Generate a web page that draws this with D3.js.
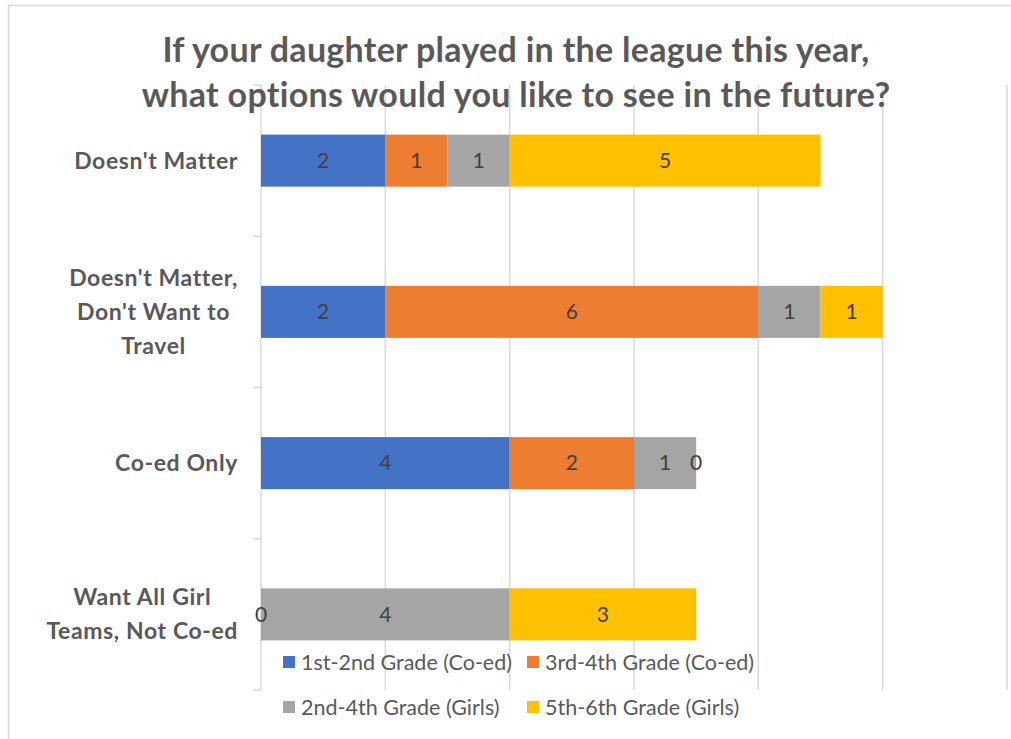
<!DOCTYPE html>
<html>
<head>
<meta charset="utf-8">
<script src="https://cdn.jsdelivr.net/npm/d3@7"></script>
<style>
  body { margin: 0; background: #fff; }
  svg { display: block; font-family: Lato, "Open Sans", sans-serif; }
</style>
</head>
<body>
<div id="chart"></div>
<script>
// categories (top to bottom), label lines
var categories = ["Doesn't Matter", "Doesn't Matter, Don't Want to Travel", "Co-ed Only", "Want All Girl Teams, Not Co-ed"];
var categoryLines = [["Doesn't Matter"], ["Doesn't Matter,", "Don't Want to", "Travel"], ["Co-ed Only"], ["Want All Girl", "Teams, Not Co-ed"]];

// series values, same order as categories (null = no value)
var seriesNames = ["1st-2nd Grade (Co-ed)", "3rd-4th Grade (Co-ed)", "2nd-4th Grade (Girls)", "5th-6th Grade (Girls)"];
var grade12Coed = [2, 2, 4, 0];
var grade34Coed = [1, 6, 2, null];
var grade24Girls = [1, 1, 1, 4];
var grade56Girls = [5, 1, 0, 3];
var seriesColors = ["#4472C4", "#ED7D31", "#A5A5A5", "#FFC000"];

var xTicks = [0, 2, 4, 6, 8, 10, 12];
var titleLines = ["If your daughter played in the league this year,", "what options would you like to see in the future?"];

var width = 1011, height = 739;
var plot = {left: 261, right: 1007, top: 85, bottom: 690};

var svg = d3.select("#chart").append("svg")
  .attr("width", width).attr("height", height);

svg.append("rect").attr("width", width).attr("height", height).attr("fill", "#fff");

// chart area border (runs off the right/bottom edges)
svg.append("rect")
  .attr("x", 8.5).attr("y", 5.5)
  .attr("width", width + 20).attr("height", height + 20)
  .attr("fill", "none").attr("stroke", "#d9d9d9").attr("stroke-width", 1.5);

var x = d3.scaleLinear().domain([0, 12]).range([plot.left, plot.right]);
var y = d3.scaleBand().domain(categories).range([plot.top, plot.bottom])
  .paddingInner(0.656).paddingOuter(0.328);

// gridlines
svg.append("g").selectAll("line")
  .data(xTicks.slice(1))
  .enter().append("line")
  .attr("x1", function (d) { return x(d); })
  .attr("x2", function (d) { return x(d); })
  .attr("y1", plot.top).attr("y2", plot.bottom)
  .attr("stroke", "#d9d9d9").attr("stroke-width", 1.5);

// category axis line and ticks
svg.append("line")
  .attr("x1", x(0)).attr("x2", x(0))
  .attr("y1", plot.top).attr("y2", plot.bottom)
  .attr("stroke", "#d9d9d9").attr("stroke-width", 1.5);

var step = y.step();
var boundaries = d3.range(categories.length + 1).map(function (i) { return plot.top + i * step; });
svg.append("g").selectAll("line")
  .data(boundaries)
  .enter().append("line")
  .attr("x1", x(0) - 8).attr("x2", x(0))
  .attr("y1", function (d) { return d; }).attr("y2", function (d) { return d; })
  .attr("stroke", "#d9d9d9").attr("stroke-width", 1.5);

// title
svg.append("g").selectAll("text")
  .data(titleLines)
  .enter().append("text")
  .attr("x", 516)
  .attr("y", function (d, i) { return 62 + i * 45; })
  .attr("text-anchor", "middle")
  .attr("font-size", 34).attr("font-weight", "bold")
  .attr("letter-spacing", 0.3)
  .attr("fill", "#595959")
  .text(function (d) { return d; });

// stacked bars
var rows = categories.map(function (c, i) {
  return {cat: c, s0: grade12Coed[i], s1: grade34Coed[i], s2: grade24Girls[i], s3: grade56Girls[i]};
});
var keys = ["s0", "s1", "s2", "s3"];
var stack = d3.stack().keys(keys).value(function (d, k) { return d[k] == null ? 0 : d[k]; });
var layers = stack(rows);

var layer = svg.append("g").selectAll("g")
  .data(layers)
  .enter().append("g")
  .attr("fill", function (d, i) { return seriesColors[i]; });

layer.selectAll("rect")
  .data(function (d) { return d; })
  .enter().append("rect")
  .attr("x", function (d) { return x(d[0]); })
  .attr("width", function (d) { return x(d[1]) - x(d[0]); })
  .attr("y", function (d) { return y(d.data.cat); })
  .attr("height", y.bandwidth());

// data labels
layers.forEach(function (l) {
  svg.append("g").selectAll("text")
    .data(l.filter(function (d) { return d.data[l.key] != null; }))
    .enter().append("text")
    .attr("x", function (d) { return (x(d[0]) + x(d[1])) / 2; })
    .attr("y", function (d) { return y(d.data.cat) + y.bandwidth() / 2; })
    .attr("dy", "0.35em")
    .attr("text-anchor", "middle")
    .attr("font-size", 21)
    .attr("fill", "#404040")
    .text(function (d) { return d.data[l.key]; });
});

// category labels
categoryLines.forEach(function (lines, i) {
  var cy = y(categories[i]) + y.bandwidth() / 2;
  var lh = 34;
  var g = svg.append("g");
  var t = g.selectAll("text")
    .data(lines)
    .enter().append("text")
    .attr("y", function (d, j) { return cy + (j - (lines.length - 1) / 2) * lh; })
    .attr("dy", "0.35em")
    .attr("font-size", 23).attr("font-weight", "bold")
    .attr("letter-spacing", 0.6)
    .attr("fill", "#595959")
    .text(function (d) { return d; });
  var maxW = 0;
  t.each(function () { maxW = Math.max(maxW, this.getComputedTextLength()); });
  t.attr("x", 238 - maxW / 2).attr("text-anchor", "middle");
});

// legend
var legendPos = [[283, 662], [527, 662], [283, 707], [527, 707]];
var legend = svg.append("g").selectAll("g")
  .data(seriesNames)
  .enter().append("g")
  .attr("transform", function (d, i) { return "translate(" + legendPos[i][0] + "," + legendPos[i][1] + ")"; });
legend.append("rect")
  .attr("x", 0).attr("y", -6).attr("width", 12).attr("height", 12)
  .attr("fill", function (d, i) { return seriesColors[i]; });
legend.append("text")
  .attr("x", 18).attr("dy", "0.35em")
  .attr("font-size", 21.5).attr("fill", "#595959")
  .text(function (d) { return d; });
</script>
</body>
</html>
